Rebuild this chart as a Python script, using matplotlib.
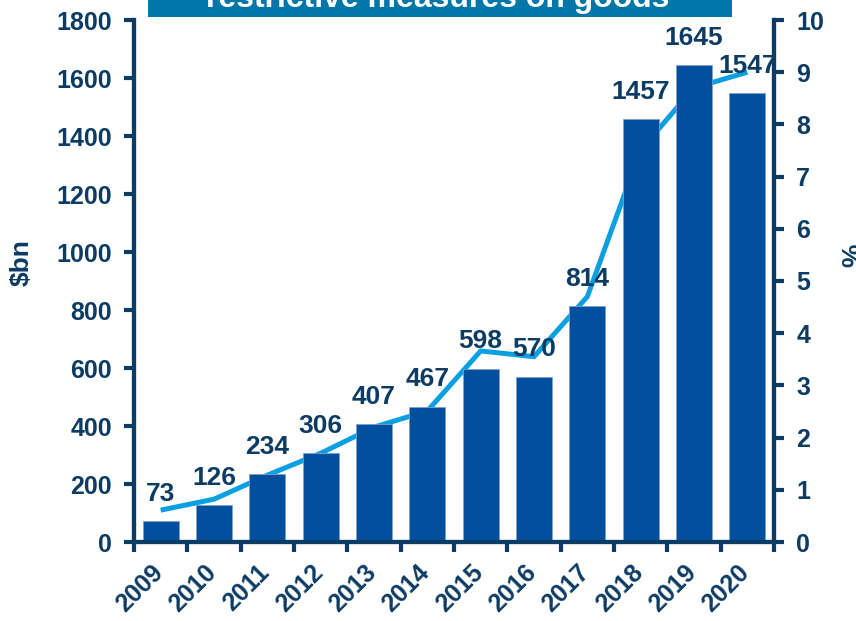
import matplotlib
matplotlib.use('Agg')
import matplotlib.pyplot as plt
import matplotlib.transforms as mtransforms
from matplotlib.patches import Rectangle
import numpy as np

plt.rcParams['font.family'] = ['Liberation Sans', 'DejaVu Sans']
plt.rcParams['font.weight'] = 'bold'

# Data
years = ['2009', '2010', '2011', '2012', '2013', '2014',
         '2015', '2016', '2017', '2018', '2019', '2020']
value_bn = [73, 126, 234, 306, 407, 467, 598, 570, 814, 1457, 1645, 1547]
share_pct = [0.61, 0.82, 1.28, 1.70, 2.20, 2.51, 3.66, 3.55, 4.70, 7.51, 8.70, 9.00]
title = 'restrictive measures on goods'

navy = '#0c3b63'
bar_blue = '#00509f'
line_blue = '#0a9fe0'
box_teal = '#0077a8'

fig = plt.figure(figsize=(8.56, 6.21), dpi=100)
ax = fig.add_axes([134 / 856, 79 / 621, 640 / 856, 522 / 621])
ax2 = ax.twinx()

x = np.arange(len(years))
ax.bar(x, value_bn, width=0.67, color=bar_blue, edgecolor='#7f9fcf',
       linewidth=0.6, zorder=2)
for xi, v in zip(x, value_bn):
    ax.annotate(str(v), (xi, v), xytext=(0, 11), textcoords='offset points',
                ha='center', va='bottom', fontsize=19, fontweight='bold',
                color=navy, zorder=3)

ax2.plot(x, share_pct, color=line_blue, linewidth=3.6, solid_capstyle='butt',
         solid_joinstyle='miter', zorder=4)

ax.set_xlim(-0.5, len(years) - 0.5)
ax.set_ylim(0, 1800)
ax.set_yticks(np.arange(0, 1801, 200))
ax2.set_ylim(0, 10)
ax2.set_yticks(np.arange(0, 11, 1))

# category labels at centres, tick marks on the boundaries
ax.set_xticks(x)
ax.set_xticklabels(years, rotation=45, ha='right', rotation_mode='anchor')
ax.set_xticks(np.arange(-0.5, len(years)), minor=True)
ax.tick_params(axis='x', which='major', length=0, pad=13, labelsize=18,
               labelcolor=navy)
ax.tick_params(axis='x', which='minor', length=7, width=3, color=navy,
               direction='out')
shift = mtransforms.ScaledTranslation(-0.10, 0.0, fig.dpi_scale_trans)
for lbl in ax.get_xticklabels():
    lbl.set_transform(lbl.get_transform() + shift)

ax.tick_params(axis='y', length=7, width=3, color=navy, labelsize=18,
               labelcolor=navy, pad=9)
ax2.tick_params(axis='y', length=7, width=3, color=navy, labelsize=18,
                labelcolor=navy, pad=9)

for a in (ax, ax2):
    a.spines['top'].set_visible(False)
    for side in ('left', 'right', 'bottom'):
        a.spines[side].set_color(navy)
        a.spines[side].set_linewidth(3)
ax2.set_zorder(ax.get_zorder() + 1)
ax2.patch.set_visible(False)
ax.set_zorder(ax2.get_zorder() + 1)
ax.patch.set_visible(False)

ax.set_ylabel('$bn', fontsize=19, fontweight='bold', color=navy)
ax.yaxis.set_label_coords(-0.157, 0.536)
ax2.set_ylabel('%', fontsize=19, fontweight='bold', color=navy)
ax2.yaxis.set_label_coords(1.106, 0.55)

# header box across the top
fig.patches.append(Rectangle((148 / 856, 1 - 16.5 / 621), 584 / 856, 16.5 / 621,
                             transform=fig.transFigure, facecolor=box_teal,
                             edgecolor='none', zorder=5))
fig.text(438 / 856, 1 - 7 / 621, title, ha='center', va='baseline',
         fontsize=23, fontweight='bold', color='white', zorder=6)

fig.savefig('out.png', dpi=100)
